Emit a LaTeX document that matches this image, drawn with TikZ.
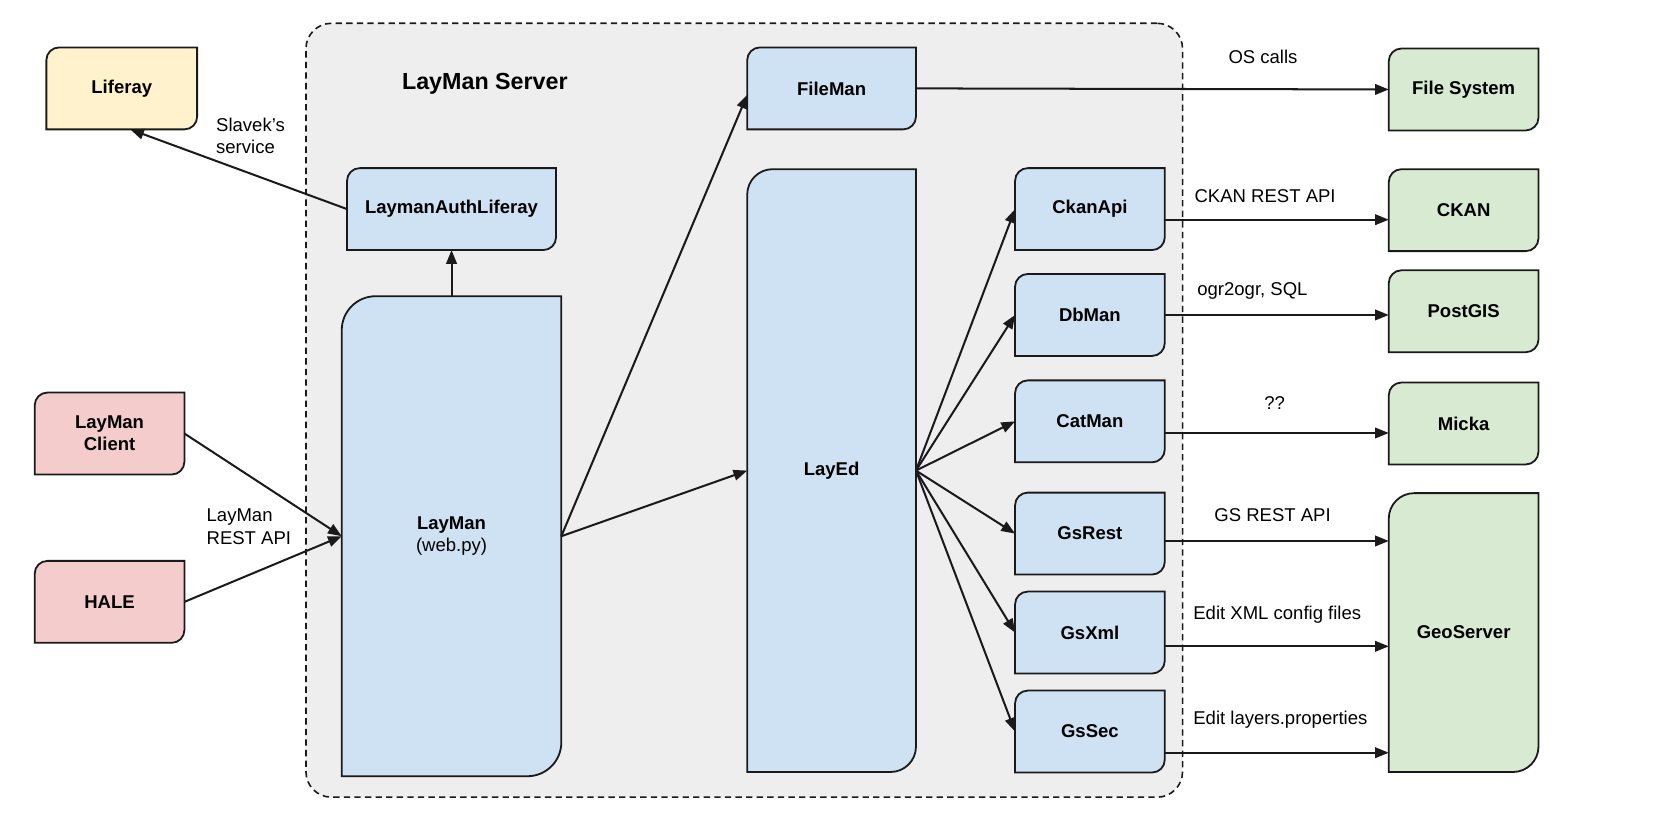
\documentclass[tikz,border=0pt]{standalone}
\usepackage{fontspec}
\setmainfont{Liberation Sans}
\usetikzlibrary{arrows.meta,backgrounds,calc}
\definecolor{cblue}{HTML}{CFE2F3}
\definecolor{cgreen}{HTML}{D9EAD3}
\definecolor{cyellow}{HTML}{FFF2CC}
\definecolor{cred}{HTML}{F4CCCC}
\definecolor{cgray}{HTML}{EEEEEE}
\definecolor{linec}{HTML}{1A1A1A}
\newcommand\cardshape[3]{%
  \path[draw=linec, line width=1.7pt, fill=#2]
    (#1.south west) -- ([yshift=-#3]#1.north west)
    arc[start angle=180,end angle=90,radius=#3]
    -- (#1.north east) -- ([yshift=#3]#1.south east)
    arc[start angle=0,end angle=-90,radius=#3] -- cycle;}
\tikzset{
  box/.style={inner sep=0pt, minimum width=141pt, minimum height=77pt,
    align=center, font=\fontsize{17.5}{21}\selectfont\bfseries},
  lbl/.style={inner sep=0pt, font=\fontsize{17.5}{21}\selectfont},
  arr/.style={draw=linec, line width=1.9pt, -{Triangle[length=13pt,width=10pt]}},
  container/.style={draw=linec, line width=1.5pt, dash pattern=on 6pt off 4pt,
    rounded corners=24pt, fill=cgray, minimum width=828pt, minimum height=731pt}
}
\begin{document}
\begin{tikzpicture}[x=1pt,y=-1pt]
\useasboundingbox (0,0) rectangle (1568,787);
% boxes
\node[box, minimum width=142pt] (liferay) at (115,83.5) {Liferay};
\node[box, minimum width=197pt] (authlr) at (426.5,197.5) {LaymanAuthLiferay};
\node[box, minimum width=207pt, minimum height=453pt] (layman) at (426.5,506.5) {LayMan\\\mdseries(web.py)};
\node[box, minimum width=159pt] (fileman) at (785.5,83.5) {FileMan};
\node[box, minimum width=159pt, minimum height=569pt] (layed) at (785.5,444.5) {LayEd};
\node[box] (ckanapi) at (1029.5,197.5) {CkanApi};
\node[box] (dbman) at (1029.5,297.5) {DbMan};
\node[box] (catman) at (1029.5,398) {CatMan};
\node[box] (gsrest) at (1029.5,504) {GsRest};
\node[box] (gsxml) at (1029.5,597.5) {GsXml};
\node[box] (gssec) at (1029.5,691) {GsSec};
\node[box] (filesys) at (1382.5,84.5) {File System};
\node[box] (ckan) at (1382.5,198.5) {CKAN};
\node[box] (postgis) at (1382.5,294) {PostGIS};
\node[box] (micka) at (1382.5,400) {Micka};
\node[box, minimum height=263pt] (geoserver) at (1382.5,597.5) {GeoServer};
\node[box] (client) at (103.5,409.5) {LayMan\\Client};
\node[box] (hale) at (103.5,568.5) {HALE};
% labels
\node[lbl, font=\fontsize{22}{26}\selectfont\bfseries] (srvlabel) at (458,79) {LayMan Server};
\node[lbl, anchor=west, align=left] (slavek) at (204,128) {Slavek’s\\service};
\node[lbl, anchor=west, align=left] (restapi) at (195,497.5) {LayMan\\REST API};
\node[lbl] (oscalls) at (1193,54) {OS calls};
\node[lbl] (ckanrest) at (1195,185) {CKAN REST API};
\node[lbl] (ogr) at (1183,275) {ogr2ogr, SQL};
\node[lbl] (qq) at (1204,381) {??};
\node[lbl] (gsrestl) at (1202,487) {GS REST API};
\node[lbl, anchor=west] (editxml) at (1127,581) {Edit XML config files};
\node[lbl, anchor=west] (editlayers) at (1127,680) {Edit layers.properties};
% shapes
\begin{pgfonlayer}{background}
\node[container] (server) at (703,387.5) {};
\cardshape{liferay}{cyellow}{12pt}
\cardshape{authlr}{cblue}{12pt}
\cardshape{layman}{cblue}{32pt}
\cardshape{fileman}{cblue}{12pt}
\cardshape{layed}{cblue}{24pt}
\cardshape{ckanapi}{cblue}{12pt}
\cardshape{dbman}{cblue}{12pt}
\cardshape{catman}{cblue}{12pt}
\cardshape{gsrest}{cblue}{12pt}
\cardshape{gsxml}{cblue}{12pt}
\cardshape{gssec}{cblue}{12pt}
\cardshape{filesys}{cgreen}{12pt}
\cardshape{ckan}{cgreen}{12pt}
\cardshape{postgis}{cgreen}{12pt}
\cardshape{micka}{cgreen}{12pt}
\cardshape{geoserver}{cgreen}{24pt}
\cardshape{client}{cred}{12pt}
\cardshape{hale}{cred}{12pt}
\end{pgfonlayer}
% connectors
\draw[arr] (authlr.west) -- ([xshift=8pt]liferay.south);
\draw[arr] (layman.north) -- (authlr.south);
\draw[arr] (client.east) -- (layman.west);
\draw[arr] (hale.east) -- (layman.west);
\draw[arr] (layman.east) -- ([yshift=-6pt]fileman.west);
\draw[arr] (layman.east) -- (layed.west);
\foreach \t in {ckanapi,dbman,catman,gsrest,gsxml,gssec}
  \draw[arr] (layed.east) -- (\t.west);
\draw[arr] (fileman.east) -- (filesys.west);
\draw[arr] ([yshift=-10pt]ckanapi.east) coordinate (c1) -- (c1 -| ckan.west);
\draw[arr] (dbman.east) coordinate (c2) -- (c2 -| postgis.west);
\draw[arr] ([yshift=-11pt]catman.east) coordinate (c3) -- (c3 -| micka.west);
\draw[arr] ([yshift=-7pt]gsrest.east) coordinate (c4) -- (c4 -| geoserver.west);
\draw[arr] ([yshift=-13pt]gsxml.east) coordinate (c5) -- (c5 -| geoserver.west);
\draw[arr] ([yshift=-20pt]gssec.east) coordinate (c6) -- (c6 -| geoserver.west);
\end{tikzpicture}
\end{document}
